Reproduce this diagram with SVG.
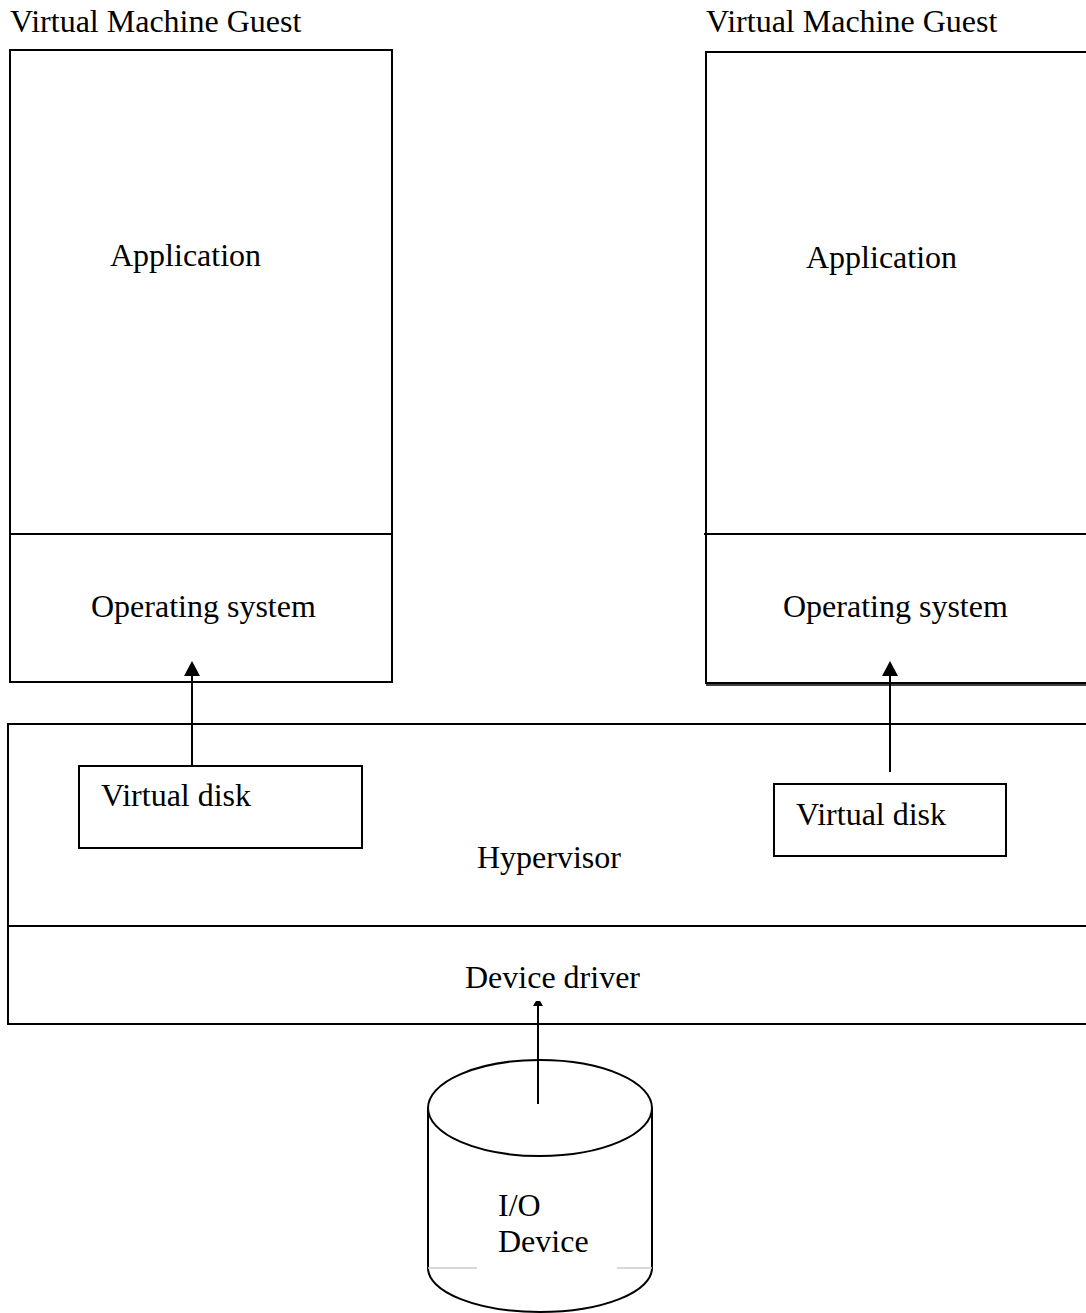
<svg xmlns="http://www.w3.org/2000/svg" width="1086" height="1313" viewBox="0 0 1086 1313">
  <defs>
    <style>
      .box { fill: none; stroke: #000; stroke-width: 2; }
      .ln { stroke: #000; stroke-width: 2; fill: none; }
      .head { fill: #000; }
      .lbl { font-family: "Liberation Serif", "Times New Roman", serif; font-size: 32px; fill: #000; }
    </style>
  </defs>
  <rect width="1086" height="1313" fill="#fff"/>

  <!-- Guest VM on the left -->
  <g id="guest-left">
    <text class="lbl" x="10" y="32">Virtual Machine Guest</text>
    <rect class="box" x="10" y="50" width="382" height="632"/>
    <line class="ln" x1="10" y1="534" x2="392" y2="534"/>
    <text class="lbl" x="110" y="266">Application</text>
    <text class="lbl" x="91" y="617">Operating system</text>
  </g>

  <!-- Guest VM on the right (runs past the edge) -->
  <g id="guest-right">
    <text class="lbl" x="706" y="32">Virtual Machine Guest</text>
    <polyline class="ln" points="1090,52 706,52 706,683 1090,683"/>
    <line stroke="#000" stroke-width="1.5" x1="706" y1="685" x2="1090" y2="685"/>
    <line class="ln" x1="704" y1="534" x2="1090" y2="534"/>
    <text class="lbl" x="806" y="268">Application</text>
    <text class="lbl" x="783" y="617">Operating system</text>
  </g>

  <!-- Hypervisor layer with device driver -->
  <g id="hypervisor">
    <polyline class="ln" points="1090,724 8,724 8,1024 1090,1024"/>
    <line class="ln" x1="8" y1="926" x2="1090" y2="926"/>
    <text class="lbl" x="477" y="868">Hypervisor</text>
    <text class="lbl" x="465" y="988">Device driver</text>
  </g>

  <g id="vdisk-left">
    <rect class="box" x="79" y="766" width="283" height="82"/>
    <text class="lbl" x="101" y="806">Virtual disk</text>
  </g>

  <g id="vdisk-right">
    <rect class="box" x="774" y="784" width="232" height="72"/>
    <text class="lbl" x="796" y="825">Virtual disk</text>
  </g>

  <!-- I/O device cylinder -->
  <g id="io-device">
    <path class="ln" d="M428,1108 L428,1268 A112,44 0 0 0 652,1268 L652,1108"/>
    <ellipse class="ln" cx="540" cy="1108" rx="112" ry="48" fill="#fff"/>
    <line stroke="#ccc" stroke-width="1.5" x1="428" y1="1268" x2="477" y2="1268"/>
    <line stroke="#ccc" stroke-width="1.5" x1="617" y1="1268" x2="652" y2="1268"/>
    <text class="lbl" x="498" y="1216">I/O</text>
    <text class="lbl" x="498" y="1252">Device</text>
  </g>

  <!-- Connectors -->
  <g id="connectors">
    <line class="ln" x1="192" y1="766" x2="192" y2="674"/>
    <polygon class="head" points="192,661 200,676 184,676"/>
    <line class="ln" x1="890" y1="772" x2="890" y2="674"/>
    <polygon class="head" points="890,661 898,676 882,676"/>
    <line class="ln" x1="538" y1="1104" x2="538" y2="1006"/>
    <polygon class="head" points="533,1006 543,1006 540,1001 536,1001"/>
  </g>
</svg>
